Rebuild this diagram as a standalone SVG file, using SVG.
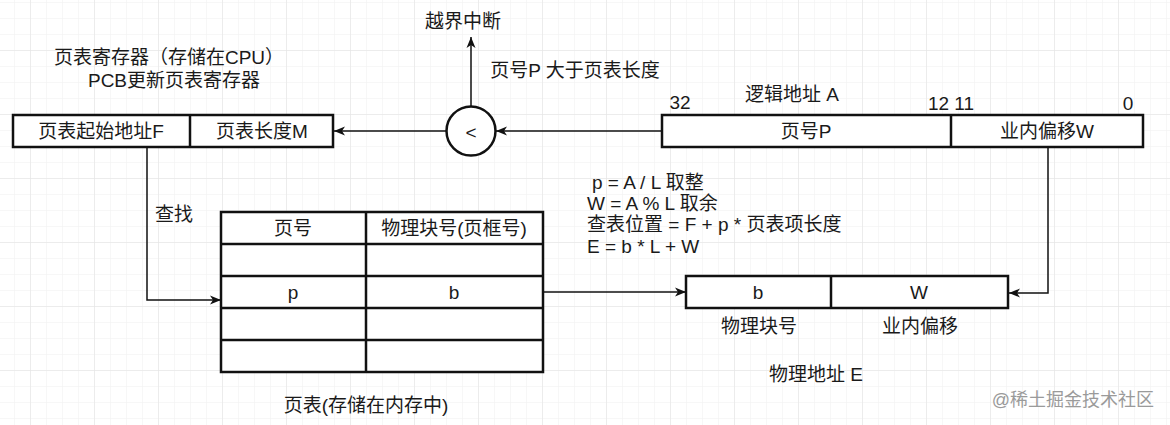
<svg xmlns="http://www.w3.org/2000/svg" width="1170" height="425" viewBox="0 0 1170 425">
<style>
.t{font-family:"Liberation Sans","Noto Sans CJK SC",sans-serif;font-size:19px;fill:#1a1a1a;dominant-baseline:central;text-anchor:middle}
.l{text-anchor:start}
.box{fill:#fff;stroke:#111;stroke-width:2.5}
.div{stroke:#111;stroke-width:2.5;fill:none}
.con{stroke:#111;stroke-width:1.5;fill:none;marker-end:url(#arr)}
.wm{font-family:"Liberation Sans","Noto Sans CJK SC",sans-serif;font-size:18px;fill:#9a9a9a;dominant-baseline:central;text-anchor:end}
</style>
<defs>
<pattern id="minor" x="30" y="50" width="16" height="16" patternUnits="userSpaceOnUse">
<path d="M0 0H16M0 0V16" stroke="#f0f0f0" stroke-width="1" fill="none"/>
</pattern>
<pattern id="major" x="30" y="50" width="64" height="64" patternUnits="userSpaceOnUse">
<path d="M0 0H64M0 0V64" stroke="#e2e2e2" stroke-width="1" fill="none"/>
</pattern>
<marker id="arr" markerUnits="userSpaceOnUse" markerWidth="14" markerHeight="12" refX="11" refY="6" orient="auto">
<path d="M0 1.5 L11 6 L0 10.5 L3 6 Z" fill="#111"/>
</marker>
</defs>
<rect width="1170" height="425" fill="#fff"/>
<rect width="1170" height="425" fill="url(#minor)"/>
<rect width="1170" height="425" fill="url(#major)"/>

<g id="connectors">
<path class="con" d="M446 131H334"/>
<path class="con" d="M662 131H496"/>
<path class="con" d="M471 106V37"/>
<path class="con" d="M147 147V300H221"/>
<path class="con" d="M543 292H686"/>
<path class="con" d="M1048 147V293H1009"/>
</g>

<g id="register-label">
<text class="t" x="169" y="57">页表寄存器（存储在CPU）</text>
<text class="t" x="174" y="80">PCB更新页表寄存器</text>
</g>

<g id="page-table-register">
<rect class="box" x="13" y="115" width="320" height="32"/>
<path class="div" d="M190 115V147"/>
<text class="t" x="101" y="131">页表起始地址F</text>
<text class="t" x="262" y="131">页表长度M</text>
</g>

<g id="compare">
<circle cx="471" cy="131" r="24.5" fill="#fff" stroke="#111" stroke-width="2.5"/>
<text class="t" x="471" y="132">&lt;</text>
</g>

<g id="interrupt">
<text class="t" x="463" y="21">越界中断</text>
</g>

<g id="cond-label">
<text class="t" x="575" y="70">页号P 大于页表长度</text>
</g>

<g id="logical-address">
<text class="t" x="680" y="102">32</text>
<text class="t" x="792" y="94">逻辑地址 A</text>
<text class="t" x="951" y="103">12 11</text>
<text class="t" x="1128" y="103">0</text>
<rect class="box" x="662" y="115" width="481" height="32"/>
<path class="div" d="M951 115V147"/>
<text class="t" x="806" y="131">页号P</text>
<text class="t" x="1047" y="131">业内偏移W</text>
</g>

<g id="lookup-label">
<text class="t" x="174" y="214">查找</text>
</g>

<g id="page-table">
<rect class="box" x="221" y="212" width="322" height="160"/>
<path class="div" d="M221 244H543M221 276H543M221 308H543M221 340H543M366 212V372"/>
<text class="t" x="293" y="228">页号</text>
<text class="t" x="454" y="228">物理块号(页框号)</text>
<text class="t" x="293" y="292">p</text>
<text class="t" x="454" y="292">b</text>
<text class="t" x="366" y="405">页表(存储在内存中)</text>
</g>

<g id="formulas">
<text class="t l" x="592" y="182">p = A / L 取整</text>
<text class="t l" x="587" y="203">W = A % L 取余</text>
<text class="t l" x="587" y="224">查表位置 = F + p * 页表项长度</text>
<text class="t l" x="587" y="246">E = b * L + W</text>
</g>

<g id="physical-address">
<rect class="box" x="686" y="276" width="322" height="32"/>
<path class="div" d="M831 276V308"/>
<text class="t" x="758" y="292">b</text>
<text class="t" x="919" y="292">W</text>
<text class="t" x="759" y="326">物理块号</text>
<text class="t" x="920" y="326">业内偏移</text>
<text class="t" x="816" y="374">物理地址 E</text>
</g>

<g id="watermark">
<text class="wm" x="1154" y="400">@稀土掘金技术社区</text>
</g>
</svg>
